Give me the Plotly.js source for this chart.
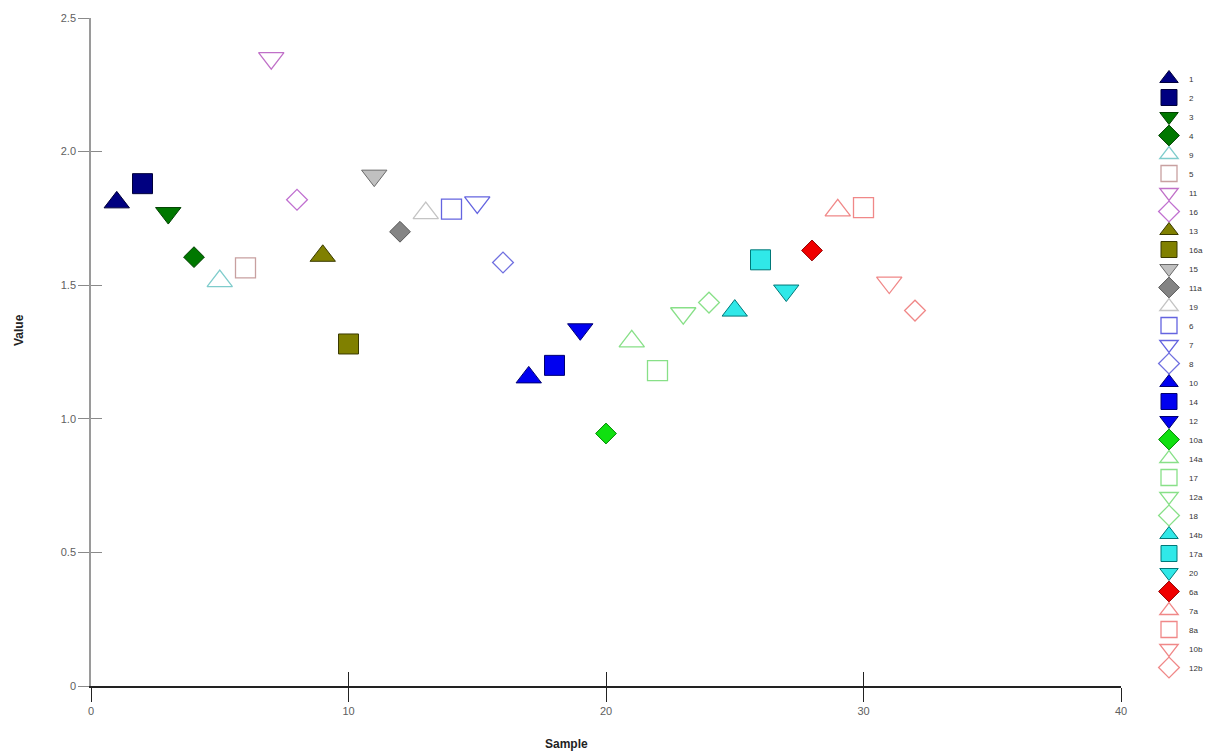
<!DOCTYPE html>
<html>
<head>
<meta charset="utf-8">
<script src="https://cdn.plot.ly/plotly-3.0.1.min.js"></script>
<style>
  html, body { margin: 0; padding: 0; background: #ffffff; }
  #chart { width: 1206px; height: 755px; }
</style>
</head>
<body>
<div id="chart"></div>
<script>
// ---------- DATA ----------
const samples = [1, 2, 3, 4, 5, 6, 7, 8, 9, 10, 11, 12, 13, 14, 15, 16,
                 17, 18, 19, 20, 21, 22, 23, 24, 25, 26, 27, 28, 29, 30, 31, 32];
const values = [1.81, 1.88, 1.77, 1.605, 1.515, 1.565, 2.35, 1.82,
                1.61, 1.28, 1.91, 1.70, 1.77, 1.785, 1.81, 1.585,
                1.155, 1.20, 1.335, 0.945, 1.29, 1.18, 1.395, 1.435,
                1.405, 1.595, 1.48, 1.63, 1.78, 1.79, 1.51, 1.405];
const seriesLabels = ["1", "2", "3", "4", "9", "5", "11", "16",
                      "13", "16a", "15", "11a", "19", "6", "7", "8",
                      "10", "14", "12", "10a", "14a", "17", "12a", "18",
                      "14b", "17a", "20", "6a", "7a", "8a", "10b", "12b"];
const xTickVals = [0, 10, 20, 30, 40];
const xTickText = ["0", "10", "20", "30", "40"];
const yTickVals = [0, 0.5, 1.0, 1.5, 2.0, 2.5];
const yTickText = ["0", "0.5", "1.0", "1.5", "2.0", "2.5"];

// ---------- STYLES ----------
const markerSymbols = [
  "triangle-up", "square", "triangle-down", "diamond",
  "triangle-up-open", "square-open", "triangle-down-open", "diamond-open",
  "triangle-up", "square", "triangle-down", "diamond",
  "triangle-up-open", "square-open", "triangle-down-open", "diamond-open",
  "triangle-up", "square", "triangle-down", "diamond",
  "triangle-up-open", "square-open", "triangle-down-open", "diamond-open",
  "triangle-up", "square", "triangle-down", "diamond",
  "triangle-up-open", "square-open", "triangle-down-open", "diamond-open"];
const markerColors = [
  "#000080", "#000080", "#007800", "#007800",
  "#7fcccc", "#c8a0a0", "#c070c8", "#c070d0",
  "#808000", "#808000", "#c0c0c0", "#848484",
  "#c4c4c4", "#6464e0", "#6464e0", "#7070e0",
  "#0000f0", "#0000f0", "#0000f0", "#10e010",
  "#88e088", "#88e088", "#88e088", "#88e088",
  "#30e8e8", "#30e8e8", "#30e8e8", "#f00000",
  "#f08888", "#f08888", "#f08888", "#f08888"];
const markerLines = [
  "#00003a", "#00003a", "#004000", "#004000",
  "#7fcccc", "#c8a0a0", "#c070c8", "#c070d0",
  "#3a3a00", "#3a3a00", "#6a6a6a", "#5a5a5a",
  "#c4c4c4", "#6464e0", "#6464e0", "#7070e0",
  "#000070", "#000070", "#000070", "#008800",
  "#88e088", "#88e088", "#88e088", "#88e088",
  "#007878", "#007878", "#007878", "#900000",
  "#f08888", "#f08888", "#f08888", "#f08888"];

function sizeFor(sym) {
  if (sym.indexOf("diamond") === 0) return 16;
  if (sym.indexOf("square") === 0) return 20;
  return 22;
}

const traces = samples.map(function (s, i) {
  const sym = markerSymbols[i];
  return {
    type: "scatter",
    mode: "markers",
    name: seriesLabels[i],
    x: [samples[i]],
    y: [values[i]],
    marker: {
      symbol: sym,
      size: sizeFor(sym),
      color: markerColors[i],
      line: { color: markerLines[i], width: sym.indexOf("open") > 0 ? 1.3 : 1 }
    },
    hovertemplate: seriesLabels[i] + ": %{y}<extra></extra>"
  };
});

// invisible helper trace so the crossing (inside) tick halves are drawn
traces.push({
  type: "scatter", mode: "markers", x: [], y: [],
  xaxis: "x2", yaxis: "y2", showlegend: false, hoverinfo: "skip"
});

const tickFont = { family: "Liberation Sans, Arial, sans-serif", size: 11, color: "#606060" };

const layout = {
  width: 1206,
  height: 755,
  paper_bgcolor: "#ffffff",
  plot_bgcolor: "#ffffff",
  margin: { l: 91, r: 85, t: 18, b: 69 },
  showlegend: true,
  xaxis: {
    range: [0, 40],
    tickmode: "array",
    tickvals: xTickVals,
    ticktext: xTickText,
    ticks: "outside",
    ticklen: 14,
    tickwidth: 1.2,
    tickcolor: "#222222",
    showline: true,
    linecolor: "#222222",
    linewidth: 1.5,
    showgrid: false,
    zeroline: false,
    tickfont: tickFont,
    fixedrange: true
  },
  yaxis: {
    range: [0, 2.5],
    tickmode: "array",
    tickvals: yTickVals,
    ticktext: yTickText,
    ticks: "outside",
    ticklen: 11,
    tickwidth: 1.2,
    tickcolor: "#8a8a8a",
    showline: true,
    linecolor: "#9a9a9a",
    linewidth: 1.5,
    showgrid: false,
    zeroline: false,
    tickfont: tickFont,
    fixedrange: true
  },
  xaxis2: {
    overlaying: "x",
    anchor: "y",
    side: "bottom",
    range: [0, 40],
    tickmode: "array",
    tickvals: xTickVals.slice(1),
    ticks: "inside",
    ticklen: 14,
    tickwidth: 1.2,
    tickcolor: "#222222",
    showticklabels: false,
    showline: false,
    showgrid: false,
    zeroline: false,
    fixedrange: true
  },
  yaxis2: {
    overlaying: "y",
    anchor: "x",
    side: "left",
    range: [0, 2.5],
    tickmode: "array",
    tickvals: yTickVals.slice(1),
    ticks: "inside",
    ticklen: 11,
    tickwidth: 1.2,
    tickcolor: "#8a8a8a",
    showticklabels: false,
    showline: false,
    showgrid: false,
    zeroline: false,
    fixedrange: true
  },
  legend: {
    xref: "container",
    yref: "container",
    x: 1149 / 1206,
    xanchor: "left",
    y: 1 - 64 / 755,
    yanchor: "top",
    maxheight: 745,
    bgcolor: "rgba(255,255,255,0)",
    borderwidth: 0,
    itemwidth: 30,
    tracegroupgap: 0,
    font: { family: "Liberation Sans, Arial, sans-serif", size: 8, color: "#333333" }
  },
  annotations: [
    {
      text: "<b>Value</b>",
      xref: "paper", yref: "paper",
      x: -72 / 1030, y: (686 - 330) / 668,
      xanchor: "center", yanchor: "middle",
      textangle: -90,
      showarrow: false,
      font: { family: "Liberation Sans, Arial, sans-serif", size: 12, color: "#222222" }
    },
    {
      text: "<b>Sample</b>",
      xref: "paper", yref: "paper",
      x: (566 - 91) / 1030, y: -(744 - 686) / 668,
      xanchor: "center", yanchor: "middle",
      showarrow: false,
      font: { family: "Liberation Sans, Arial, sans-serif", size: 12, color: "#222222" }
    }
  ]
};

Plotly.newPlot("chart", traces, layout, { displayModeBar: false, responsive: false });
</script>
</body>
</html>
